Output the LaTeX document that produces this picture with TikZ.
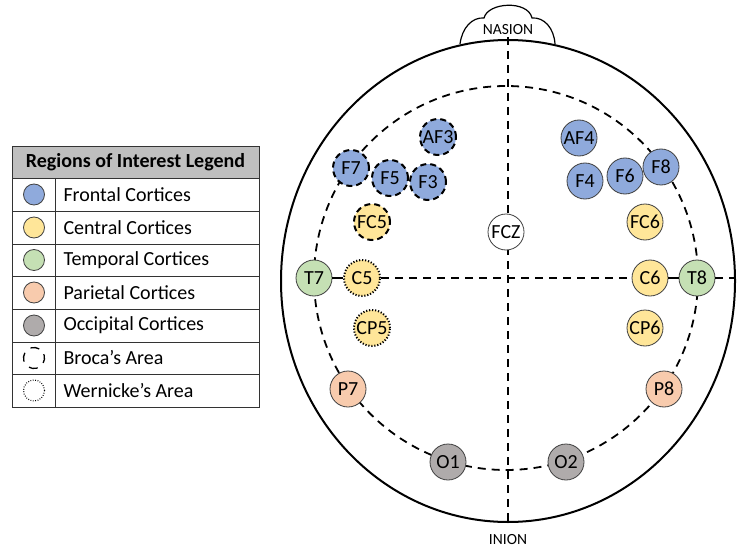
\documentclass[tikz,border=0pt]{standalone}
\usepackage{fontspec}
\setmainfont{Carlito}
\begin{document}
\begin{tikzpicture}[x=1pt,y=-1pt,
  electrode/.style={circle,draw=black!75,line width=0.8pt,minimum size=36pt,inner sep=0pt,
    font=\fontsize{20}{20}\selectfont},
  frontal/.style={electrode,fill=blueF},
  central/.style={electrode,fill=yellowC},
  temporal/.style={electrode,fill=greenT},
  parietal/.style={electrode,fill=orangeP},
  occipital/.style={electrode,fill=grayO},
  neutral/.style={electrode,fill=white},
  broca/.style={draw=black,line width=2pt,dash pattern=on 6pt off 4pt},
  wernicke/.style={draw=black,line width=2pt,dash pattern=on 1.2pt off 1.8pt},
  guide/.style={line width=1.8pt,dash pattern=on 8pt off 6pt},
  legdot/.style={circle,draw=black!75,line width=0.8pt,minimum size=21pt,inner sep=0pt},
  legtext/.style={anchor=west,font=\fontsize{20}{20}\selectfont}]
\definecolor{blueF}{HTML}{8FAADC}
\definecolor{yellowC}{HTML}{FFE699}
\definecolor{greenT}{HTML}{C5E0B4}
\definecolor{orangeP}{HTML}{F8CBAD}
\definecolor{grayO}{HTML}{AFABAB}
\definecolor{headgray}{HTML}{BFBFBF}
\useasboundingbox (0,0) rectangle (738,548);

% nasion bump
\draw[line width=1.2pt,fill=white] (460,44) .. controls (462,28) and (472,17) .. (484,18)
  .. controls (488,2) and (528,0) .. (532,18)
  .. controls (544,17) and (554,28) .. (555,44);
% head outline
\draw[line width=2pt,fill=white] (508,281) ellipse [x radius=227, y radius=241];
\node[font=\fontsize{15.5}{15.5}\selectfont] (nasion) at (508,30) {NASION};
\node[font=\fontsize{15.5}{15.5}\selectfont] (inion) at (508,540) {INION};

% reference lines
\coordinate (top) at (508,37);
\coordinate (bot) at (508,522);
\coordinate (rightend) at (735,278);
\draw[guide] (top) -- (bot);
\draw[guide] (506,278) circle [radius=192];

% electrodes
\node[frontal,broca] (AF3) at (438,137) {AF3};
\node[frontal,broca] (F7) at (351,168) {F7};
\node[frontal,broca] (F5) at (390,178) {F5};
\node[frontal,broca] (F3) at (428,182) {F3};
\node[central,broca] (FC5) at (372,222) {FC5};
\node[temporal] (T7) at (314,278) {T7};
\node[central,wernicke] (C5) at (362,278) {C5};
\node[central,wernicke] (CP5) at (372,328) {CP5};
\node[parietal] (P7) at (348,389) {P7};
\node[occipital] (O1) at (448,462) {O1};
\node[occipital] (O2) at (566,462) {O2};
\node[parietal] (P8) at (664,389) {P8};
\node[central] (CP6) at (645,328) {CP6};
\node[central] (C6) at (650,278) {C6};
\node[temporal] (T8) at (697,278) {T8};
\node[central] (FC6) at (645,222) {FC6};
\node[frontal] (F4) at (585,181) {F4};
\node[frontal] (F6) at (625,176) {F6};
\node[frontal] (F8) at (661,167) {F8};
\node[frontal] (AF4) at (579,138) {AF4};
\node[neutral] (FCZ) at (506,232) {FCZ};

% midline between temporal electrodes
\draw[guide] (C5) -- (C6);
\draw[line width=1.8pt] (T7) -- (C5);
\draw[line width=1.8pt] (C6) -- (T8);
\draw[guide] (T8) -- (rightend);

% legend table
\fill[headgray] (12,146) rectangle (259,178);
\draw[line width=0.9pt,black!80] (12,146) rectangle (259,407);
\foreach \yy in {178,211,244,276,309,342,374} \draw[line width=0.9pt,black!80] (12,\yy) -- (259,\yy);
\draw[line width=0.9pt,black!80] (55,178) -- (55,407);
\node[font=\bfseries\fontsize{20}{20}\selectfont] (legtitle) at (135.5,162) {Regions of Interest Legend};

\node[legdot,fill=blueF] (lf) at (34,194.5) {};
\node[legtext] (tf) at (60,194.5) {Frontal Cortices};
\node[legdot,fill=yellowC] (lc) at (34,227.5) {};
\node[legtext] (tc) at (60,227.5) {Central Cortices};
\node[legdot,fill=greenT] (lt) at (34,260) {};
\node[legtext] (tt) at (60,260) {Temporal Cortices};
\node[legdot,fill=orangeP] (lp) at (34,292.5) {};
\node[legtext] (tp) at (60,292.5) {Parietal Cortices};
\node[legdot,fill=grayO] (lo) at (34,325.5) {};
\node[legtext] (to) at (60,325.5) {Occipital Cortices};
\node[legdot,draw=black,line width=1.3pt,dash pattern=on 9pt off 7.5pt,rotate=60] (lb) at (34,358) {};
\node[legtext] (tb) at (60,358) {Broca’s Area};
\node[legdot,draw=black,line width=1.1pt,dash pattern=on 0.8pt off 1.6pt] (lw) at (34,390.5) {};
\node[legtext] (tw) at (60,390.5) {Wernicke’s Area};
\end{tikzpicture}
\end{document}
